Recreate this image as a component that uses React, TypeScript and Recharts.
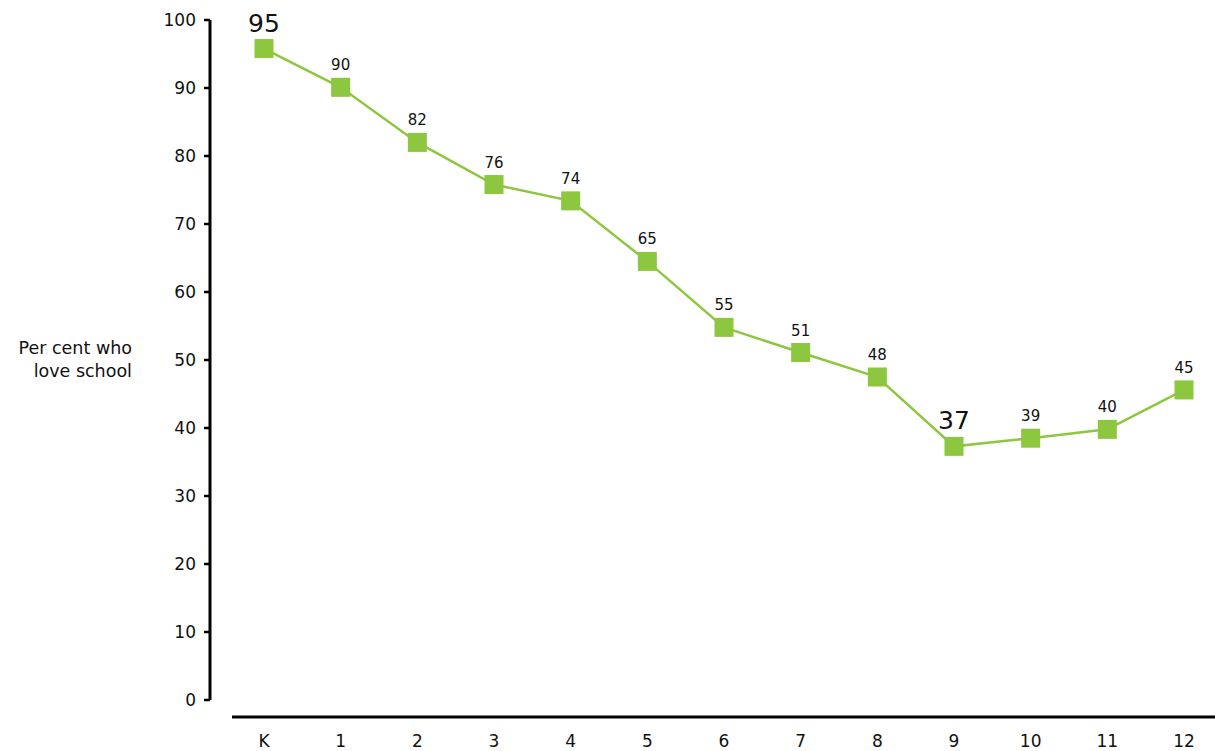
import React from 'react';
import { LineChart, Line, XAxis, YAxis, LabelList } from 'recharts';

const grades = ['K', '1', '2', '3', '4', '5', '6', '7', '8', '9', '10', '11', '12'];
const lovePct = [95.8, 90.1, 82.0, 75.8, 73.4, 64.5, 54.8, 51.1, 47.5, 37.3, 38.5, 39.8, 45.6];
const shownLabels = [95, 90, 82, 76, 74, 65, 55, 51, 48, 37, 39, 40, 45];
const highlighted = ['K', '9'];
const yTicks = [0, 10, 20, 30, 40, 50, 60, 70, 80, 90, 100];
const yTitle = ['Per cent who', 'love school'];

const data = grades.map((g, i) => ({ grade: g, value: lovePct[i], label: shownLabels[i] }));

const GREEN = '#8dc63f';
const FONT = '"DejaVu Sans", sans-serif';

const SquareDot = (props: any) => {
  const { cx, cy, index } = props;
  if (cx == null || cy == null) return null;
  return <rect key={`d${index}`} x={cx - 9.5} y={cy - 9.5} width={19} height={19} fill={GREEN} />;
};

const PointLabel = (props: any) => {
  const { x, y, value, index } = props;
  const big = highlighted.includes(grades[index]);
  return (
    <text
      x={x}
      y={y - (big ? 17 : 17)}
      textAnchor="middle"
      fontFamily={FONT}
      fontSize={big ? 25 : 15}
      fill="#111"
    >
      {value}
    </text>
  );
};

const YTitle = (props: any) => {
  const { viewBox } = props;
  const rx = viewBox.x + viewBox.width - 78;
  const cy = viewBox.y + viewBox.height / 2;
  return (
    <text x={rx} y={cy} textAnchor="end" fontFamily={FONT} fontSize={17.5} fill="#111">
      <tspan x={rx} dy={-6}>{yTitle[0]}</tspan>
      <tspan x={rx} dy={23}>{yTitle[1]}</tspan>
    </text>
  );
};

export default function App() {
  return (
    <div style={{ position: 'absolute', left: 0, top: 0, background: '#fff' }}>
      <LineChart
        width={1215}
        height={751}
        data={data}
        margin={{ top: 20, right: 0, bottom: 0, left: 0 }}
      >
        <XAxis
          dataKey="grade"
          height={51}
          padding={{ left: 54, right: 31 }}
          axisLine={{ stroke: '#000', strokeWidth: 3, transform: 'translate(22,17)' }}
          tickLine={false}
          tickSize={0}
          tickMargin={35}
          interval={0}
          tick={{ fill: '#111', fontSize: 17, fontFamily: FONT }}
        />
        <YAxis
          domain={[0, 100]}
          ticks={yTicks}
          width={210}
          axisLine={{ stroke: '#000', strokeWidth: 3 }}
          tickLine={{ stroke: '#000', strokeWidth: 2.5 }}
          tickSize={6}
          tickMargin={8}
          interval={0}
          tick={{ fill: '#111', fontSize: 17, fontFamily: FONT }}
          label={<YTitle />}
        />
        <Line
          type="linear"
          dataKey="value"
          stroke={GREEN}
          strokeWidth={2.5}
          dot={<SquareDot />}
          activeDot={false}
          isAnimationActive={false}
        >
          <LabelList dataKey="label" content={<PointLabel />} />
        </Line>
      </LineChart>
    </div>
  );
}
